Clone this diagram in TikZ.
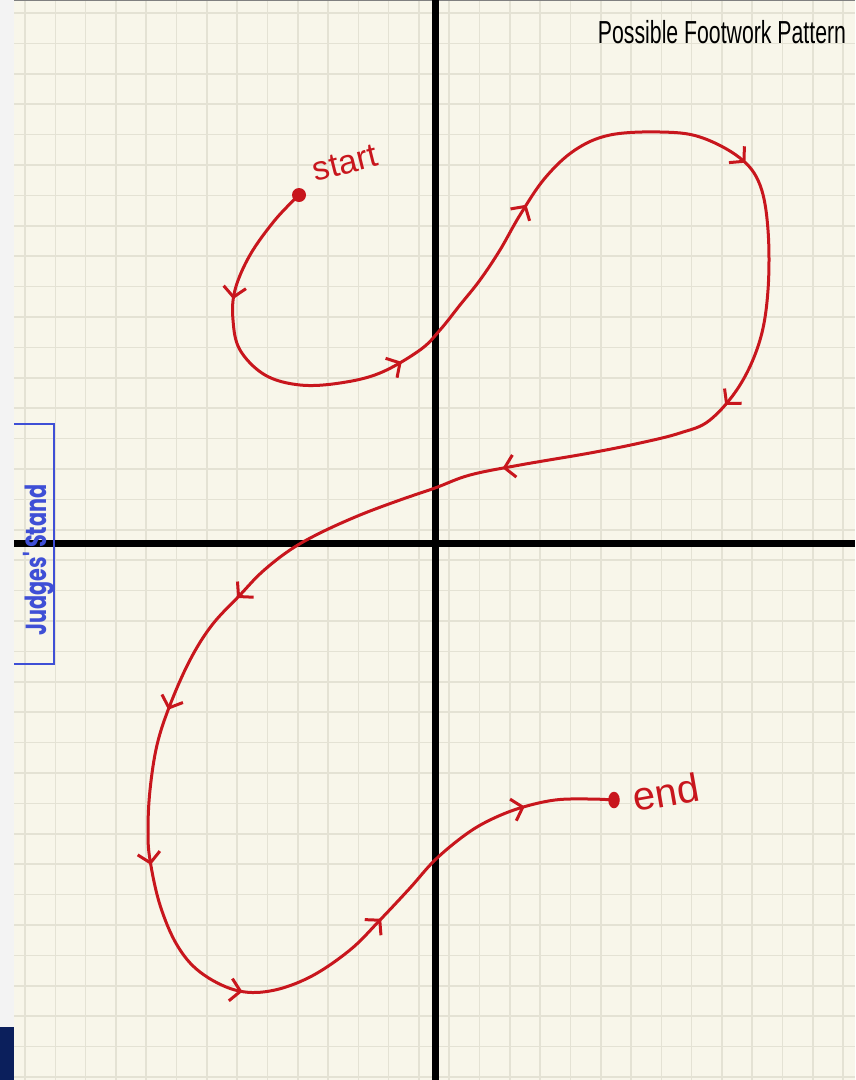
\documentclass[tikz,border=0pt]{standalone}
\usepackage{fontspec}
\setmainfont{Liberation Sans}
\newfontfamily\judgefont{Poppins}
\usetikzlibrary{arrows.meta,decorations.markings,shapes.geometric}
\definecolor{paper}{HTML}{F8F6EA}
\definecolor{gridc}{HTML}{E4E2D4}
\definecolor{pathred}{HTML}{C8161D}
\definecolor{judgeblue}{HTML}{3F4FD6}
\definecolor{navy}{HTML}{0B1F5C}
\definecolor{strip}{HTML}{F3F3F3}
% 1 reference pixel = 0.4pt
\tikzset{
  barb/.tip={Straight Barb[length=4pt,width=9pt]},
  gridline/.style={gridc, line width=0.64pt},
  axis/.style={black, line width=2.8pt},
  route/.style={pathred, line width=1.2pt, line cap=round, line join=round},
  dot/.style={circle, fill=pathred, inner sep=0pt, minimum size=5.6pt},
  routelabel/.style={text=pathred, font=\fontsize{13.5}{13.5}\selectfont, inner sep=0pt},
  chevron/.style={decoration={markings,
      mark=at position 0.050 with {\arrow{barb}},
      mark=at position 0.142 with {\arrow{barb}},
      mark=at position 0.223 with {\arrow{barb}},
      mark=at position 0.325 with {\arrow{barb}},
      mark=at position 0.428 with {\arrow{barb}},
      mark=at position 0.522 with {\arrow{barb}},
      mark=at position 0.642 with {\arrow{barb}},
      mark=at position 0.695 with {\arrow{barb}},
      mark=at position 0.758 with {\arrow{barb}},
      mark=at position 0.825 with {\arrow{barb}},
      mark=at position 0.890 with {\arrow{barb}},
      mark=at position 0.964 with {\arrow{barb}}},
    postaction={decorate}}
}
\begin{document}
\begin{tikzpicture}[x=0.4pt,y=-0.4pt]
\useasboundingbox (0,0) rectangle (855,1080);
% page
\fill[strip] (0,0) rectangle (14,1080);
\fill[paper] (14,0) rectangle (855,1080);
\fill[navy] (0,1027) rectangle (14,1080);
% grid
\foreach \i in {0,...,27} \draw[gridline] ({25+30.3*\i},0) -- ({25+30.3*\i},1080);
\foreach \j in {0,...,35} \draw[gridline] (14,{13+30.4*\j}) -- (855,{13+30.4*\j});
\draw[gray, line width=0.5pt] (14,0.6) -- (855,0.6);
% axes
\draw[axis] (435,0) -- (435,1080);
\draw[axis] (14,543) -- (855,543);
% title
\node[font=\fontsize{8.5}{8.5}\selectfont, inner sep=0pt] (title) at (722,32) {\scalebox{1}[1.5]{Possible Footwork Pattern}};
% judges' stand
\coordinate (jtl) at (14,424);
\coordinate (jbl) at (14,664);
\draw[judgeblue, line width=0.9pt] (jtl) -- (54,424) -- (54,664) -- (jbl);
\node[text=judgeblue, rotate=90, font=\judgefont\bfseries\fontsize{8.3}{8.3}\selectfont, inner sep=0pt] (judges) at (39,560) {\scalebox{1}[1.4]{Judges' Stand}};
% route
\node[dot] (startdot) at (299,195) {};
\node[ellipse, fill=pathred, inner sep=0pt, minimum width=4.6pt, minimum height=6.6pt] (enddot) at (614,800) {};
\draw[route, chevron] plot[smooth, tension=0.6] coordinates {
 (startdot.center) (275,220) (250,255) (235,290) (233,320) (240,350) (265,375) (300,385)
 (340,383) (380,373) (420,350) (440,330) (460,305) (480,280) (500,250) (520,215)
 (545,178) (575,150) (610,135) (660,132) (700,137) (740,158) (760,185) (768,230)
 (768,290) (760,340) (740,385) (710,420) (680,433) (640,443) (590,453) (520,465)
 (470,475) (435,488) (400,500) (360,515) (320,533) (290,550) (262,572) (240,595)
 (212,625) (190,660) (170,705) (157,745) (150,790) (148,830) (150,860) (160,905)
 (177,945) (200,972) (235,990) (270,991) (310,977) (350,950) (380,920) (410,888)
 (435,860) (465,835) (490,820) (520,808) (555,800) (590,799) (enddot.center)};
\node[routelabel, rotate=14] (startlabel) at (345,163) {start};
\node[routelabel, rotate=10, font=\fontsize{16}{16}\selectfont] (endlabel) at (666,792) {end};
\end{tikzpicture}
\end{document}
